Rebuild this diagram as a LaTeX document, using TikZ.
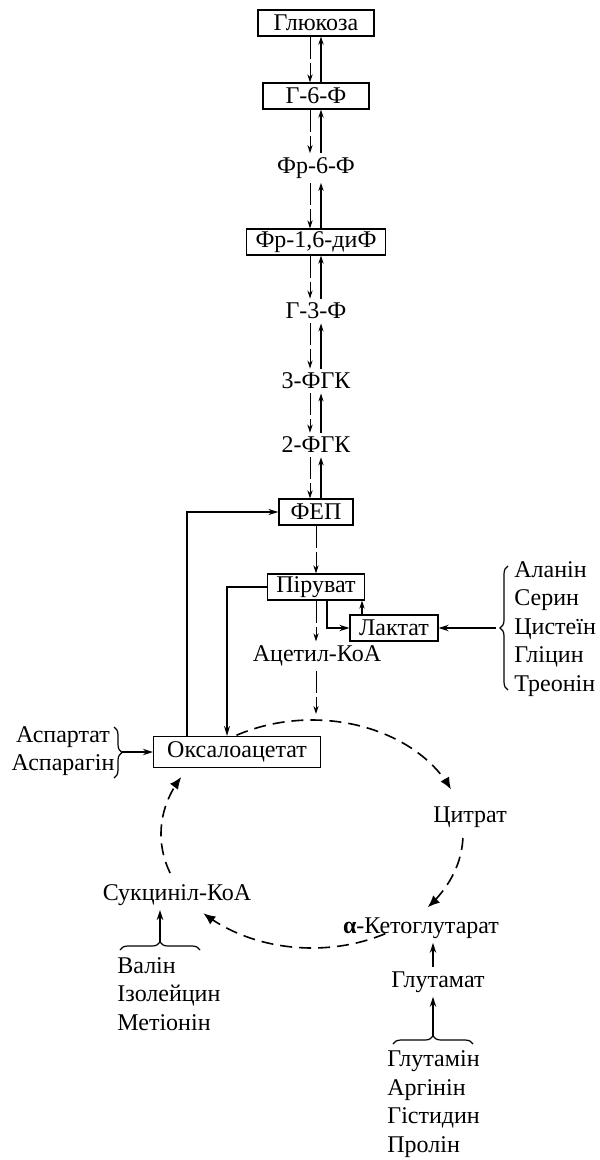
\documentclass[tikz,border=0pt]{standalone}
\usepackage{fontspec}
\setmainfont{Liberation Serif}
\usetikzlibrary{arrows.meta,decorations.pathreplacing}
\begin{document}
\begin{tikzpicture}[x=0.5pt,y=-0.5pt, font=\fontsize{12}{14.2}\selectfont,
 box/.style={draw, line width=0.6pt, minimum height=13pt, inner sep=1pt},
 lbl/.style={inner sep=2pt},
 dn/.style={-{Stealth[length=4pt,width=2.6pt]}, line width=0.5pt, dash pattern=on 11pt off 2pt},
 up/.style={-{Stealth[length=4pt,width=2.6pt]}, line width=1pt},
 cyc/.style={line width=0.8pt, dash pattern=on 6pt off 3.5pt, -{Latex[length=6pt,width=5pt]}},
 con/.style={line width=0.6pt, -{Stealth[length=5pt,width=3pt]}},
 thk/.style={line width=1pt, -{Stealth[length=5pt,width=3.2pt]}},
 brc/.style={decorate, decoration={brace, amplitude=4pt}, line width=0.6pt}]
\useasboundingbox (0,0) rectangle (599,1160);
% nodes
\node[box, minimum width=58pt] (glu) at (316,23) {Глюкоза};
\node[box, minimum width=53pt] (g6f) at (316,96) {Г-6-Ф};
\node[lbl] (fr6f) at (316,168) {Фр-6-Ф};
\node[box, minimum width=69.5pt] (fr16) at (316,242) {Фр-1,6-диФ};
\node[lbl] (g3f) at (316,311) {Г-3-Ф};
\node[lbl] (fgk3) at (316,381) {3-ФГК};
\node[lbl] (fgk2) at (316,445) {2-ФГК};
\node[box, minimum width=37pt] (fep) at (316,512) {ФЕП};
\node[box, minimum width=48.5pt] (pyr) at (316,587) {Піруват};
\node[box, minimum width=44pt] (lac) at (394,628) {Лактат};
\node[lbl] (acoa) at (317,656) {Ацетил-КоА};
\node[box, minimum width=83.5pt, minimum height=15.5pt] (oxa) at (237,752) {Оксалоацетат};
\node[lbl] (cit) at (470,817) {Цитрат};
\node[lbl] (akg) at (421,928) {\textbf{α}-Кетоглутарат};
\node[lbl] (glm) at (438,982) {Глутамат};
\node[lbl] (suc) at (177,895) {Сукциніл-КоА};
\node[align=center, inner sep=0pt] (asp) at (63,751) {Аспартат\\Аспарагін};
\node[align=left, anchor=west, inner sep=0pt] (lst1) at (514,629) {Аланін\\Серин\\Цистеїн\\Гліцин\\Треонін};
\node[align=left, anchor=west, inner sep=0pt] (lst2) at (117,994) {Валін\\Ізолейцин\\Метіонін};
\node[align=left, anchor=west, inner sep=0pt] (lst3) at (387,1104) {Глутамін\\Аргінін\\Гістидин\\Пролін};
% glycolysis arrows
\foreach \a/\b in {glu/g6f, g6f/fr6f, fr6f/fr16, fr16/g3f, g3f/fgk3, fgk3/fgk2, fgk2/fep}{
  \draw[dn] ([xshift=-3pt]\a.south) -- ([xshift=-3pt]\b.north);
  \draw[up] ([xshift=2.5pt]\b.north) -- ([xshift=2.5pt]\a.south);
}
\draw[dn] (fep.south) -- (pyr.north);
\draw[dn] (pyr.south) -- (pyr.south |- acoa.north);
\coordinate (ctop) at (316,714);
\draw[dn] (acoa.south -| ctop) -- (ctop);
% side connectors
\draw[con] (pyr.west) -| ([xshift=-5pt]oxa.north);
\draw[con] ([xshift=-25pt]oxa.north) |- (fep.west);
\draw[thk] ([xshift=5.5pt]pyr.south) |- (lac.west);
\draw[line width=0.6pt, -{Stealth[length=4pt,width=2.6pt]}] ([xshift=-16pt]lac.north) -- ([xshift=-16pt]lac.north |- pyr.south);
% braces
\draw[brc] (508,690) -- (508,566);
\coordinate (tip1) at (496,628);
\draw[thk] (tip1) -- (lac.east);
\draw[brc] (114,727) -- (114,778);
\coordinate (tip0) at (122,752);
\draw[thk] (tip0) -- (oxa.west);
\draw[brc] (120,950) -- (200,950);
\coordinate (tip2) at (160,942);
\draw[thk] (tip2) -- (tip2 |- suc.south);
\draw[brc] (393,1044) -- (473,1044);
\coordinate (tip3) at (433,1036);
\draw[thk] (tip3) -- (tip3 |- glm.south);
\draw[thk] (tip3 |- glm.north) -- (tip3 |- akg.south);
% Krebs cycle
\draw[cyc] plot[domain=120:23, samples=60] ({312+151*cos(\x)},{834-114*sin(\x)});
\draw[cyc] plot[domain=-2:-40, samples=30] ({312+151*cos(\x)},{834-114*sin(\x)});
\draw[cyc] plot[domain=-61:-136, samples=50] ({312+151*cos(\x)},{834-114*sin(\x)});
\draw[cyc] plot[domain=200:150, samples=40] ({312+151*cos(\x)},{834-114*sin(\x)});
\end{tikzpicture}
\end{document}
